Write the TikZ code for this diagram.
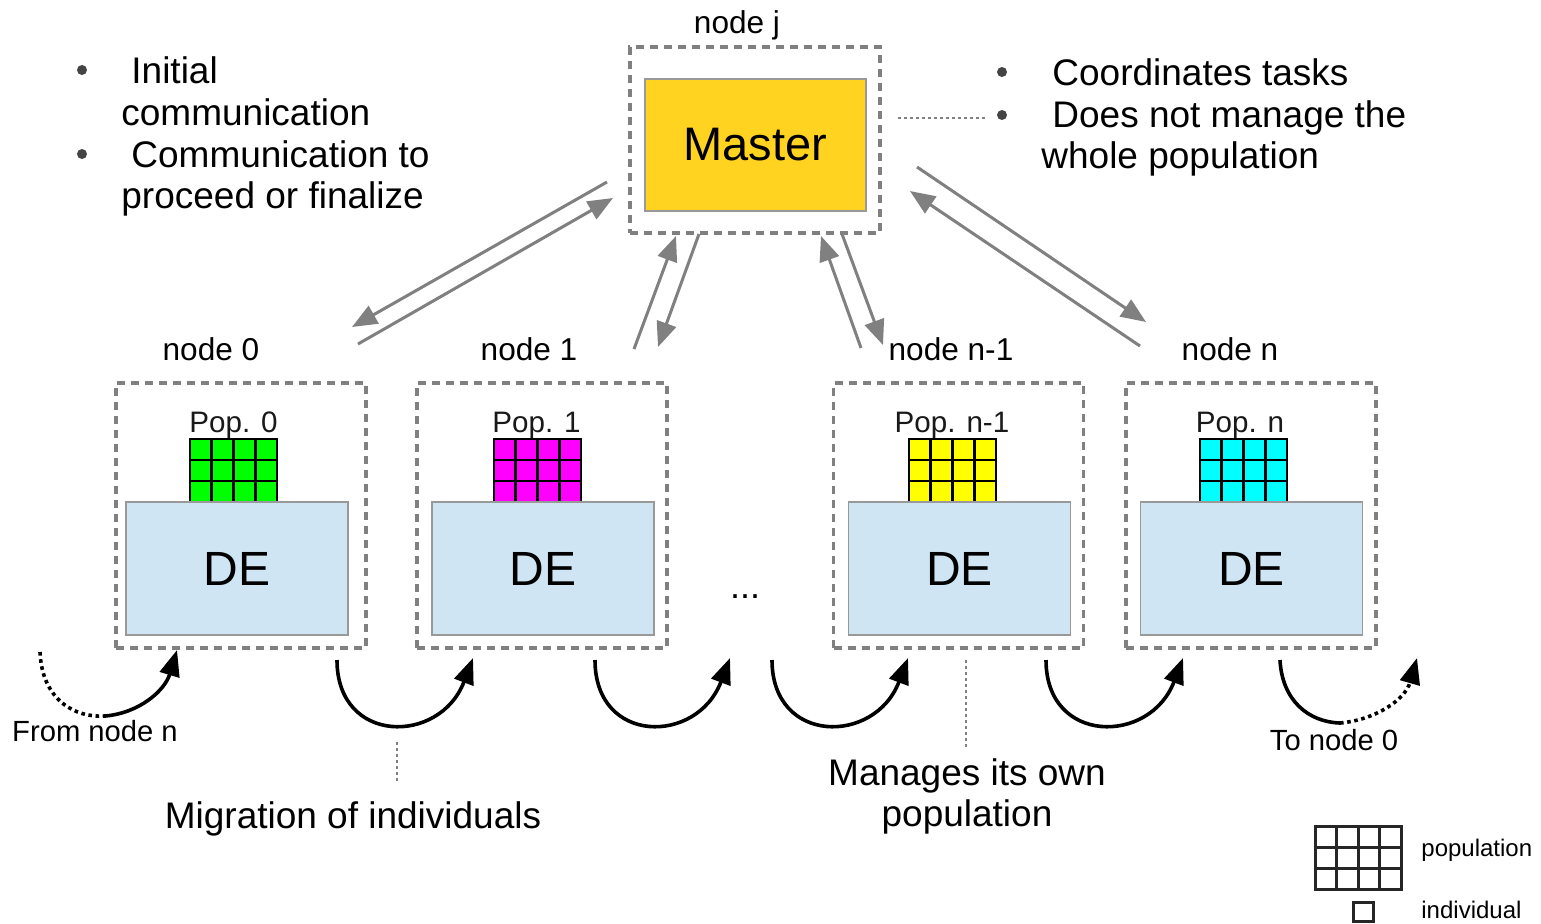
\documentclass[tikz,border=0pt]{standalone}
\usepackage{fontspec}
\setmainfont{Liberation Sans}
\usetikzlibrary{arrows.meta}
\definecolor{dashgray}{HTML}{808080}
\definecolor{arrgray}{HTML}{808080}
\definecolor{masteryellow}{HTML}{FFD320}
\definecolor{deblue}{HTML}{CFE5F3}
\definecolor{bulletgray}{HTML}{444444}
\definecolor{popgreen}{HTML}{00FF00}
\definecolor{popmagenta}{HTML}{FF00FF}
\definecolor{popyellow}{HTML}{FFFF00}
\definecolor{popcyan}{HTML}{00FFFF}
\tikzset{
  nodebox/.style={draw=dashgray, line width=1.6pt, dash pattern=on 4pt off 3pt, minimum width=125pt, minimum height=132.5pt, inner sep=0pt},
  masterbox/.style={draw=dashgray, line width=1.6pt, dash pattern=on 4pt off 3pt, minimum width=125pt, minimum height=93pt, inner sep=0pt},
  masterfill/.style={draw=gray!80, line width=0.6pt, fill=masteryellow, minimum width=110.5pt, minimum height=66pt, inner sep=0pt, font=\fontsize{23.5}{28}\selectfont},
  debox/.style={draw=gray!80, line width=0.6pt, fill=deblue, minimum width=111pt, minimum height=66.5pt, inner sep=0pt, font=\fontsize{24}{28}\selectfont},
  lbl/.style={inner sep=0pt, anchor=base, font=\fontsize{15.8}{19}\selectfont},
  poplbl/.style={inner sep=0pt, anchor=base, text=black!90, font=\fontsize{14.8}{18}\selectfont},
  big/.style={inner sep=0pt, anchor=base west, font=\fontsize{18.5}{22}\selectfont},
  bigc/.style={inner sep=0pt, anchor=base, font=\fontsize{18.5}{22}\selectfont},
  small/.style={inner sep=0pt, anchor=base, font=\fontsize{14.6}{18}\selectfont},
  leg/.style={inner sep=0pt, anchor=base west, font=\fontsize{12}{14}\selectfont},
  garrow/.style={draw=arrgray, line width=1.5pt, -{Triangle[length=12.5pt,width=10pt]}},
  marrow/.style={draw=black, line width=1.8pt, -{Triangle[length=13pt,width=10pt]}},
  mline/.style={draw=black, line width=1.8pt},
  mdots/.style={draw=black, line width=1.8pt, dash pattern=on 1.8pt off 1.8pt},
  guide/.style={draw=gray, line width=1pt, dash pattern=on 1.5pt off 1.5pt},
  bul/.style={circle, fill=bulletgray, inner sep=0pt, minimum size=5pt}
}
\newcommand{\popgrid}[3]{% x0, y0, colour
  \filldraw[fill=#3, draw=black, line width=1.3pt] (#1,#2) rectangle ++(87,63);
  \foreach \i in {1,2,3} \draw[black, line width=1.3pt] ({#1+21.75*\i},#2) -- ++(0,63);
  \foreach \j in {1,2} \draw[black, line width=1.3pt] (#1,{#2+21*\j}) -- ++(87,0);
}
\begin{document}
\begin{tikzpicture}[x=0.5pt,y=-0.5pt]
\useasboundingbox[fill=white] (0,0) rectangle (1541,923);

% master
\node[masterbox] (mo) at (755,140) {};
\node[masterfill] (master) at (755.5,145) {Master};
\node[lbl] (lj) at (737,33) {node j};

% node boxes
\node[nodebox] (n0) at (241,515.5) {};
\node[nodebox] (n1) at (542,515.5) {};
\node[nodebox] (nm) at (958.5,515.5) {};
\node[nodebox] (nn) at (1251,515.5) {};

\popgrid{190}{439}{popgreen}
\popgrid{494}{439}{popmagenta}
\popgrid{909}{439}{popyellow}
\popgrid{1200}{439}{popcyan}

\node[debox] (de0) at (237,568.5) {DE};
\node[debox] (de1) at (543,568.5) {DE};
\node[debox] (dem) at (959.5,568.5) {DE};
\node[debox] (den) at (1251.5,568.5) {DE};

\node[poplbl] (p0) at (233.5,432) {Pop. 0};
\node[poplbl] (p1) at (536.5,432) {Pop. 1};
\node[poplbl] (pm) at (952,432) {Pop. n-1};
\node[poplbl] (pn) at (1240,432) {Pop. n};

\node[lbl] (l0) at (211,360) {node 0};
\node[lbl] (l1) at (529,360) {node 1};
\node[lbl] (lm) at (951,360) {node n-1};
\node[lbl] (ln) at (1230,360) {node n};

\node[inner sep=0pt, font=\fontsize{18}{22}\selectfont] (dots) at (745,597) {...};

% master <-> node arrows
\coordinate (a1s) at (607,182); \coordinate (a1e) at (352,327);
\coordinate (a2s) at (358,344); \coordinate (a2e) at (613,198);
\coordinate (a3s) at (634,349); \coordinate (a3e) at (676,236);
\coordinate (a4s) at (699,234); \coordinate (a4e) at (658,347);
\coordinate (a5s) at (861,348); \coordinate (a5e) at (821,236);
\coordinate (a6s) at (842,234); \coordinate (a6e) at (883,345);
\coordinate (a7s) at (917,167); \coordinate (a7e) at (1146,322);
\coordinate (a8s) at (1140,346); \coordinate (a8e) at (910,191);
\draw[garrow] (a1s) -- (a1e);
\draw[garrow] (a2s) -- (a2e);
\draw[garrow] (a3s) -- (a3e);
\draw[garrow] (a4s) -- (a4e);
\draw[garrow] (a5s) -- (a5e);
\draw[garrow] (a6s) -- (a6e);
\draw[garrow] (a7s) -- (a7e);
\draw[garrow] (a8s) -- (a8e);

% left bullets
\node[bul] (b1) at (82,70) {};
\node[bul] (b2) at (82,154) {};
\node[big] (t1) at (131,83) {Initial};
\node[big] (t2) at (121,125) {communication};
\node[big] (t3) at (131,167) {Communication to};
\node[big] (t4) at (121,208) {proceed or finalize};

% right bullets
\node[bul] (b3) at (1002,72) {};
\node[bul] (b4) at (1002,115) {};
\node[big] (r1) at (1052,85) {Coordinates tasks};
\node[big] (r2) at (1052,127) {Does not manage the};
\node[big] (r3) at (1041,168) {whole population};
\coordinate (g1) at (898,118);
\coordinate (g2) at (987,118);
\draw[guide] (g1) -- (g2);

% migration arrows
\coordinate (f0) at (40,652); \coordinate (f1) at (105,716); \coordinate (f2) at (177,650);
\draw[mdots] (f0) .. controls (42,700) and (75,718) .. (f1);
\draw[marrow] (f1) .. controls (140,713) and (165,690) .. (f2);
\coordinate (m1s) at (337,660); \coordinate (m1e) at (473,658);
\draw[marrow] (m1s) .. controls (337,745) and (440,745) .. (m1e);
\coordinate (m2s) at (595,660); \coordinate (m2e) at (730,658);
\draw[marrow] (m2s) .. controls (595,745) and (697,745) .. (m2e);
\coordinate (m3s) at (772,660); \coordinate (m3e) at (908,658);
\draw[marrow] (m3s) .. controls (772,745) and (875,745) .. (m3e);
\coordinate (m4s) at (1046,660); \coordinate (m4e) at (1183,658);
\draw[marrow] (m4s) .. controls (1046,745) and (1150,745) .. (m4e);
\coordinate (e0) at (1280,660); \coordinate (e1) at (1340,723); \coordinate (e2) at (1417,658);
\draw[mline] (e0) .. controls (1282,700) and (1308,722) .. (e1);
\draw[mdots, -{Triangle[length=13pt,width=10pt]}] (e1) .. controls (1375,720) and (1405,700) .. (e2);

\node[small] (fromn) at (95,741) {From node n};
\node[small] (to0) at (1334,750) {To node 0};

% guide lines to captions
\coordinate (v1a) at (397,742); \coordinate (v1b) at (397,783);
\draw[guide] (v1a) -- (v1b);
\coordinate (v2a) at (966,660); \coordinate (v2b) at (966,748);
\draw[guide] (v2a) -- (v2b);

\node[bigc] (mig) at (353,828) {Migration of individuals};
\node[bigc] (man1) at (967,785) {Manages its own};
\node[bigc] (man2) at (967,826) {population};

% legend
\draw[black!85, line width=1.5pt] (1315,826) rectangle (1401,889);
\foreach \i in {1,2,3} \draw[black!85, line width=1.5pt] ({1315+21.5*\i},826) -- ++(0,63);
\foreach \j in {1,2} \draw[black!85, line width=1.5pt] (1315,{826+21*\j}) -- ++(86,0);
\draw[black!85, line width=1.5pt] (1353,902) rectangle (1373,921);
\node[leg] (lpop) at (1421,856) {population};
\node[leg] (lind) at (1421,918) {individual};
\end{tikzpicture}
\end{document}
